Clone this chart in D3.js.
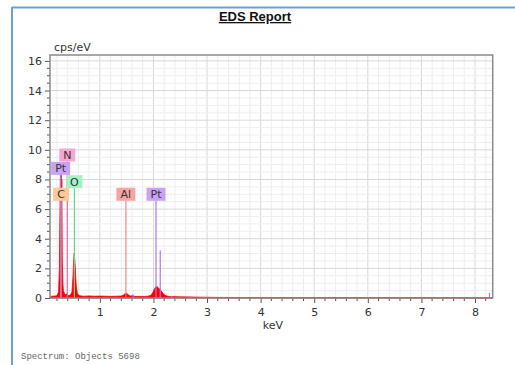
<!DOCTYPE html>
<html>
<head>
<meta charset="utf-8">
<script src="https://cdn.jsdelivr.net/npm/d3@7"></script>
<style>
  html, body { margin: 0; padding: 0; background: #fff; }
  svg { display: block; }
  .tick text { font-family: "DejaVu Sans", Verdana, sans-serif; font-size: 11px; fill: #333; }
</style>
</head>
<body>
<div id="chart"></div>
<script>
const W = 515;
const H = 365;
const PLOT = { left: 50, right: 492.7, top: 55, bottom: 298 };

// spectrum samples: energy (keV) and intensity (cps/eV)
const ENERGY = [0.07, 0.1, 0.15, 0.2, 0.23, 0.245, 0.255, 0.265, 0.272, 0.278, 0.284, 0.29, 0.296, 0.3, 0.31, 0.32, 0.34, 0.36, 0.38, 0.4, 0.42, 0.45, 0.48, 0.5, 0.51, 0.52, 0.53, 0.54, 0.55, 0.56, 0.58, 0.62, 0.7, 0.8, 0.9, 1.0, 1.1, 1.2, 1.3, 1.4, 1.44, 1.47, 1.5, 1.53, 1.57, 1.61, 1.65, 1.7, 1.8, 1.9, 1.96, 2.0, 2.03, 2.06, 2.08, 2.1, 2.13, 2.16, 2.2, 2.25, 2.3, 2.5, 2.8, 3.2, 4.0, 5.0, 6.0, 7.0, 8.33];
const CPS = [0.05, 0.12, 0.13, 0.15, 0.4, 2.0, 5.5, 8.8, 7.0, 8.6, 6.5, 8.0, 4.5, 2.5, 1.0, 0.5, 0.3, 0.22, 0.28, 0.2, 0.15, 0.2, 0.4, 1.5, 2.4, 3.0, 2.7, 2.2, 1.4, 0.8, 0.3, 0.15, 0.12, 0.14, 0.12, 0.13, 0.12, 0.11, 0.12, 0.13, 0.2, 0.3, 0.32, 0.22, 0.13, 0.16, 0.11, 0.1, 0.1, 0.12, 0.2, 0.45, 0.7, 0.8, 0.72, 0.65, 0.55, 0.4, 0.22, 0.14, 0.1, 0.08, 0.06, 0.04, 0.03, 0.02, 0.02, 0.015, 0.01];

// element markers: symbol, line energy (keV), marker height (cps/eV)
const MARK_EL = ["C", "Pt", "N", "O", "Al", "Pt", "Pt", "Pt", "Pt", "Pt", "Pt"];
const MARK_KEV = [0.277, 0.268, 0.392, 0.525, 1.486, 2.048, 2.127, 1.62, 2.34, 2.69, 8.27];
const MARK_TOP = [7, 8.75, 9.65, 7.85, 7, 7, 3.2, 0.25, 0.15, 0.1, 0.35];
const MARK_LABELLED = [true, true, true, true, true, true, false, false, false, false, false];

const X_TICKS = [1, 2, 3, 4, 5, 6, 7, 8];
const Y_TICKS = [0, 2, 4, 6, 8, 10, 12, 14, 16];

const EL_COLOR = { C: "#f0a060", N: "#f060b0", O: "#60dd90", Al: "#f08888", Pt: "#a878ee" };
const EL_FILL = { C: "#ffc898", N: "#f8a6d0", O: "#a4f2c4", Al: "#f6a4a4", Pt: "#c8a2f6" };

const svg = d3.select("#chart").append("svg").attr("width", W).attr("height", H);

// report frame
svg.append("line").attr("x1", 12).attr("x2", W).attr("y1", 7.5).attr("y2", 7.5)
  .attr("stroke", "#6a9fd6").attr("stroke-width", 2);
svg.append("line").attr("x1", 12).attr("x2", 12).attr("y1", 7).attr("y2", H)
  .attr("stroke", "#6a9fd6").attr("stroke-width", 2);

svg.append("text").attr("x", 255).attr("y", 21).attr("text-anchor", "middle")
  .style("font-family", "Liberation Sans, Arial, sans-serif").style("font-size", "13px")
  .style("font-weight", "bold").style("text-decoration", "underline").attr("fill", "#111")
  .text("EDS Report");

const x = d3.scaleLinear().domain([0.07, 8.33]).range([PLOT.left, PLOT.right]);
const y = d3.scaleLinear().domain([0, 16.4]).range([PLOT.bottom, PLOT.top]);

// grid
const grid = svg.append("g");
const minorX = d3.range(0.2, 8.33, 0.2).map((v) => Math.round(v * 10) / 10);
const minorY = d3.range(0.5, 16.4, 0.5);
grid.selectAll("line.gx").data(minorX).join("line")
  .attr("x1", (d) => x(d)).attr("x2", (d) => x(d)).attr("y1", PLOT.top).attr("y2", PLOT.bottom)
  .attr("stroke", (d) => (Number.isInteger(d) ? "#d8d8d8" : "#eeeeee")).attr("stroke-width", 1);
grid.selectAll("line.gy").data(minorY).join("line")
  .attr("y1", (d) => y(d)).attr("y2", (d) => y(d)).attr("x1", PLOT.left).attr("x2", PLOT.right)
  .attr("stroke", (d) => (d % 2 === 0 ? "#d8d8d8" : "#eeeeee")).attr("stroke-width", 1);

// spectrum
const spectrum = ENERGY.map((e, i) => [e, CPS[i]]);
svg.append("path").datum(spectrum)
  .attr("fill", "#ff0000").attr("stroke", "#ff0000").attr("stroke-width", 0.8)
  .attr("d", d3.area().x((d) => x(d[0])).y0(y(0)).y1((d) => y(d[1])));

// marker lines
const marks = MARK_EL.map((el, i) => ({ el, kev: MARK_KEV[i], top: MARK_TOP[i], labelled: MARK_LABELLED[i] }));
svg.append("g").selectAll("line").data(marks).join("line")
  .attr("x1", (d) => x(d.kev)).attr("x2", (d) => x(d.kev))
  .attr("y1", y(0)).attr("y2", (d) => y(d.top) + (d.labelled ? 6 : 0))
  .attr("stroke", (d) => EL_COLOR[d.el]).attr("stroke-width", 1.2);

// labels
const lab = svg.append("g").selectAll("g").data(marks.filter((d) => d.labelled)).join("g")
  .attr("transform", (d) => `translate(${x(d.kev)},${y(d.top)})`);
lab.append("rect")
  .attr("x", (d) => (d.el.length > 1 ? -9.5 : -8)).attr("width", (d) => (d.el.length > 1 ? 19 : 16))
  .attr("y", -6.5).attr("height", 13).attr("fill", (d) => EL_FILL[d.el]);
lab.append("text").attr("text-anchor", "middle").attr("dy", "0.36em")
  .style("font-family", "DejaVu Sans, Verdana, sans-serif").style("font-size", "11px").attr("fill", "#333")
  .text((d) => d.el);

// axes
const xAxis = svg.append("g").attr("transform", `translate(0,${PLOT.bottom})`)
  .call(d3.axisBottom(x).tickValues(X_TICKS).tickFormat(d3.format("d")).tickSize(5).tickPadding(5));
xAxis.select(".domain").remove();
svg.append("g").attr("transform", `translate(0,${PLOT.bottom})`).selectAll("line")
  .data(minorX.filter((d) => !Number.isInteger(d))).join("line")
  .attr("x1", (d) => x(d)).attr("x2", (d) => x(d)).attr("y1", 0).attr("y2", 3).attr("stroke", "#555");

const yAxis = svg.append("g").attr("transform", `translate(${PLOT.left},0)`)
  .call(d3.axisLeft(y).tickValues(Y_TICKS).tickFormat(d3.format("d")).tickSize(5).tickPadding(3));
yAxis.select(".domain").remove();
svg.append("g").attr("transform", `translate(${PLOT.left},0)`).selectAll("line")
  .data(minorY.filter((d) => d % 2 !== 0)).join("line")
  .attr("y1", (d) => y(d)).attr("y2", (d) => y(d)).attr("x1", 0).attr("x2", -3).attr("stroke", "#555");
svg.selectAll(".tick line").attr("stroke", "#555");

// plot frame
svg.append("rect").attr("x", PLOT.left).attr("y", PLOT.top)
  .attr("width", PLOT.right - PLOT.left).attr("height", PLOT.bottom - PLOT.top)
  .attr("fill", "none").attr("stroke", "#8a8a8a").attr("stroke-width", 1.5);

svg.append("text").attr("x", 54).attr("y", 51)
  .style("font-family", "DejaVu Sans, Verdana, sans-serif").style("font-size", "11px").attr("fill", "#333")
  .text("cps/eV");
svg.append("text").attr("x", 273).attr("y", 329).attr("text-anchor", "middle")
  .style("font-family", "DejaVu Sans, Verdana, sans-serif").style("font-size", "11px").attr("fill", "#333")
  .text("keV");

svg.append("text").attr("x", 21).attr("y", 359)
  .style("font-family", "Liberation Mono, Courier New, monospace").style("font-size", "9px").attr("fill", "#666")
  .text("Spectrum: Objects 5698");
</script>
</body>
</html>
